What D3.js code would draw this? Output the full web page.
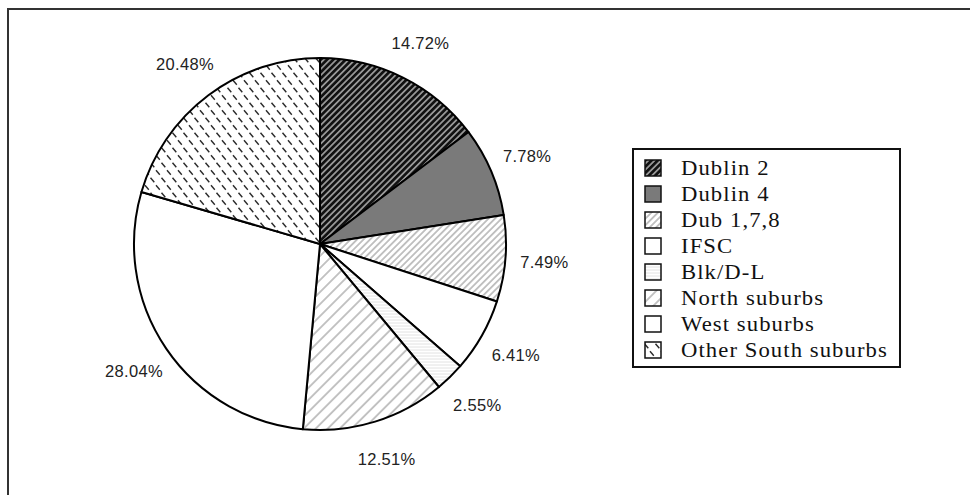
<!DOCTYPE html>
<html>
<head>
<meta charset="utf-8">
<script src="https://cdn.jsdelivr.net/npm/d3@7/dist/d3.min.js"></script>
<style>
  html, body { margin: 0; padding: 0; background: #fff; }
  svg { display: block; }
</style>
</head>
<body>
<svg id="chart" width="970" height="495"></svg>
<script>
// Office location shares (%)
const categories = ["Dublin 2", "Dublin 4", "Dub 1,7,8", "IFSC", "Blk/D-L",
                    "North suburbs", "West suburbs", "Other South suburbs"];
const shares = [14.72, 7.78, 7.49, 6.41, 2.55, 12.51, 28.04, 20.48];
// fill pattern per category
const fills = ["darkHatch", "solidGrey", "fineHatch", "plain", "faintLines",
               "wideHatch", "plain", "dashes"];

const svg = d3.select("#chart");
const W = 970, H = 495;

svg.append("rect").attr("width", W).attr("height", H).attr("fill", "#fff");

// ---- pattern definitions ----
const defs = svg.append("defs");

function hatch(id, spacing, bg, stroke, sw, angle) {
  const p = defs.append("pattern").attr("id", id)
    .attr("patternUnits", "userSpaceOnUse")
    .attr("width", spacing).attr("height", spacing)
    .attr("patternTransform", `rotate(${angle})`);
  p.append("rect").attr("width", spacing).attr("height", spacing).attr("fill", bg);
  p.append("line").attr("x1", 0).attr("y1", 0).attr("x2", 0).attr("y2", spacing)
    .attr("stroke", stroke).attr("stroke-width", sw);
  p.append("line").attr("x1", spacing).attr("y1", 0).attr("x2", spacing).attr("y2", spacing)
    .attr("stroke", stroke).attr("stroke-width", sw);
}
hatch("darkHatch", 4.4, "#111", "#e8e8e8", 1.1, 45);
hatch("fineHatch", 4.6, "#fff", "#8a8a8a", 1, 45);
hatch("wideHatch", 8.5, "#fff", "#8a8a8a", 1, 45);

// faint horizontal rules
(function () {
  const p = defs.append("pattern").attr("id", "faintLines")
    .attr("patternUnits", "userSpaceOnUse").attr("width", 6).attr("height", 3);
  p.append("rect").attr("width", 6).attr("height", 3).attr("fill", "#fff");
  p.append("line").attr("x1", 0).attr("x2", 6).attr("y1", 1).attr("y2", 1)
    .attr("stroke", "#dadada").attr("stroke-width", 0.8);
})();

// staggered short dashes
(function () {
  const w = 11, h = 15;
  const p = defs.append("pattern").attr("id", "dashes")
    .attr("patternUnits", "userSpaceOnUse").attr("width", w).attr("height", h);
  p.append("rect").attr("width", w).attr("height", h).attr("fill", "#fff");
  p.append("line").attr("x1", 1).attr("y1", 1.2).attr("x2", 4.8).attr("y2", 5.8)
    .attr("stroke", "#2a2a2a").attr("stroke-width", 1.4);
  p.append("line").attr("x1", 6.5).attr("y1", 8.7).attr("x2", 10.3).attr("y2", 13.3)
    .attr("stroke", "#2a2a2a").attr("stroke-width", 1.4);
})();

function fillFor(i) {
  const f = fills[i];
  if (f === "plain") return "#fff";
  if (f === "solidGrey") return "#7a7a7a";
  return `url(#${f})`;
}

// ---- outer frame ----
svg.append("path")
  .attr("d", `M8,${H} V9 H${W}`)
  .attr("fill", "none").attr("stroke", "#333").attr("stroke-width", 2);

// ---- pie ----
const cx = 320, cy = 244, R = 186;
const pie = d3.pie().sort(null).value(d => d)(shares);
const arc = d3.arc().innerRadius(0).outerRadius(R);
const labelArc = d3.arc().innerRadius(225).outerRadius(225);

const g = svg.append("g").attr("transform", `translate(${cx},${cy})`);

g.selectAll("path.slice").data(pie).join("path")
  .attr("class", "slice")
  .attr("d", arc)
  .attr("fill", (d, i) => fillFor(i))
  .attr("stroke", "#000")
  .attr("stroke-width", 2)
  .attr("stroke-linejoin", "round");

g.selectAll("text.pct").data(pie).join("text")
  .attr("class", "pct")
  .attr("transform", d => `translate(${labelArc.centroid(d)})`)
  .attr("text-anchor", "middle")
  .attr("dominant-baseline", "central")
  .attr("font-family", "'Liberation Sans', Arial, sans-serif")
  .attr("font-size", 16.5)
  .attr("letter-spacing", 0.3)
  .attr("fill", "#222")
  .text(d => d.data.toFixed(2) + "%");

// ---- legend ----
const lg = svg.append("g");
const lx = 633, ly = 149, lw = 267, lh = 218;
lg.append("rect").attr("x", lx).attr("y", ly).attr("width", lw).attr("height", lh)
  .attr("fill", "#fff").attr("stroke", "#111").attr("stroke-width", 2);

const rowY = d3.scalePoint().domain(categories).range([168, 350]);

const rows = lg.selectAll("g.row").data(categories).join("g")
  .attr("class", "row")
  .attr("transform", d => `translate(0,${rowY(d)})`);

rows.append("rect")
  .attr("x", 645).attr("y", -8).attr("width", 16).attr("height", 16)
  .attr("fill", (d, i) => fillFor(i))
  .attr("stroke", "#111").attr("stroke-width", 1.5);

rows.append("text")
  .attr("transform", "translate(681,7) scale(1.08,1)")
  .attr("font-family", "'Liberation Serif', 'Times New Roman', serif")
  .attr("font-size", 21)
  .attr("letter-spacing", 1)
  .attr("fill", "#111")
  .text(d => d);
</script>
</body>
</html>
